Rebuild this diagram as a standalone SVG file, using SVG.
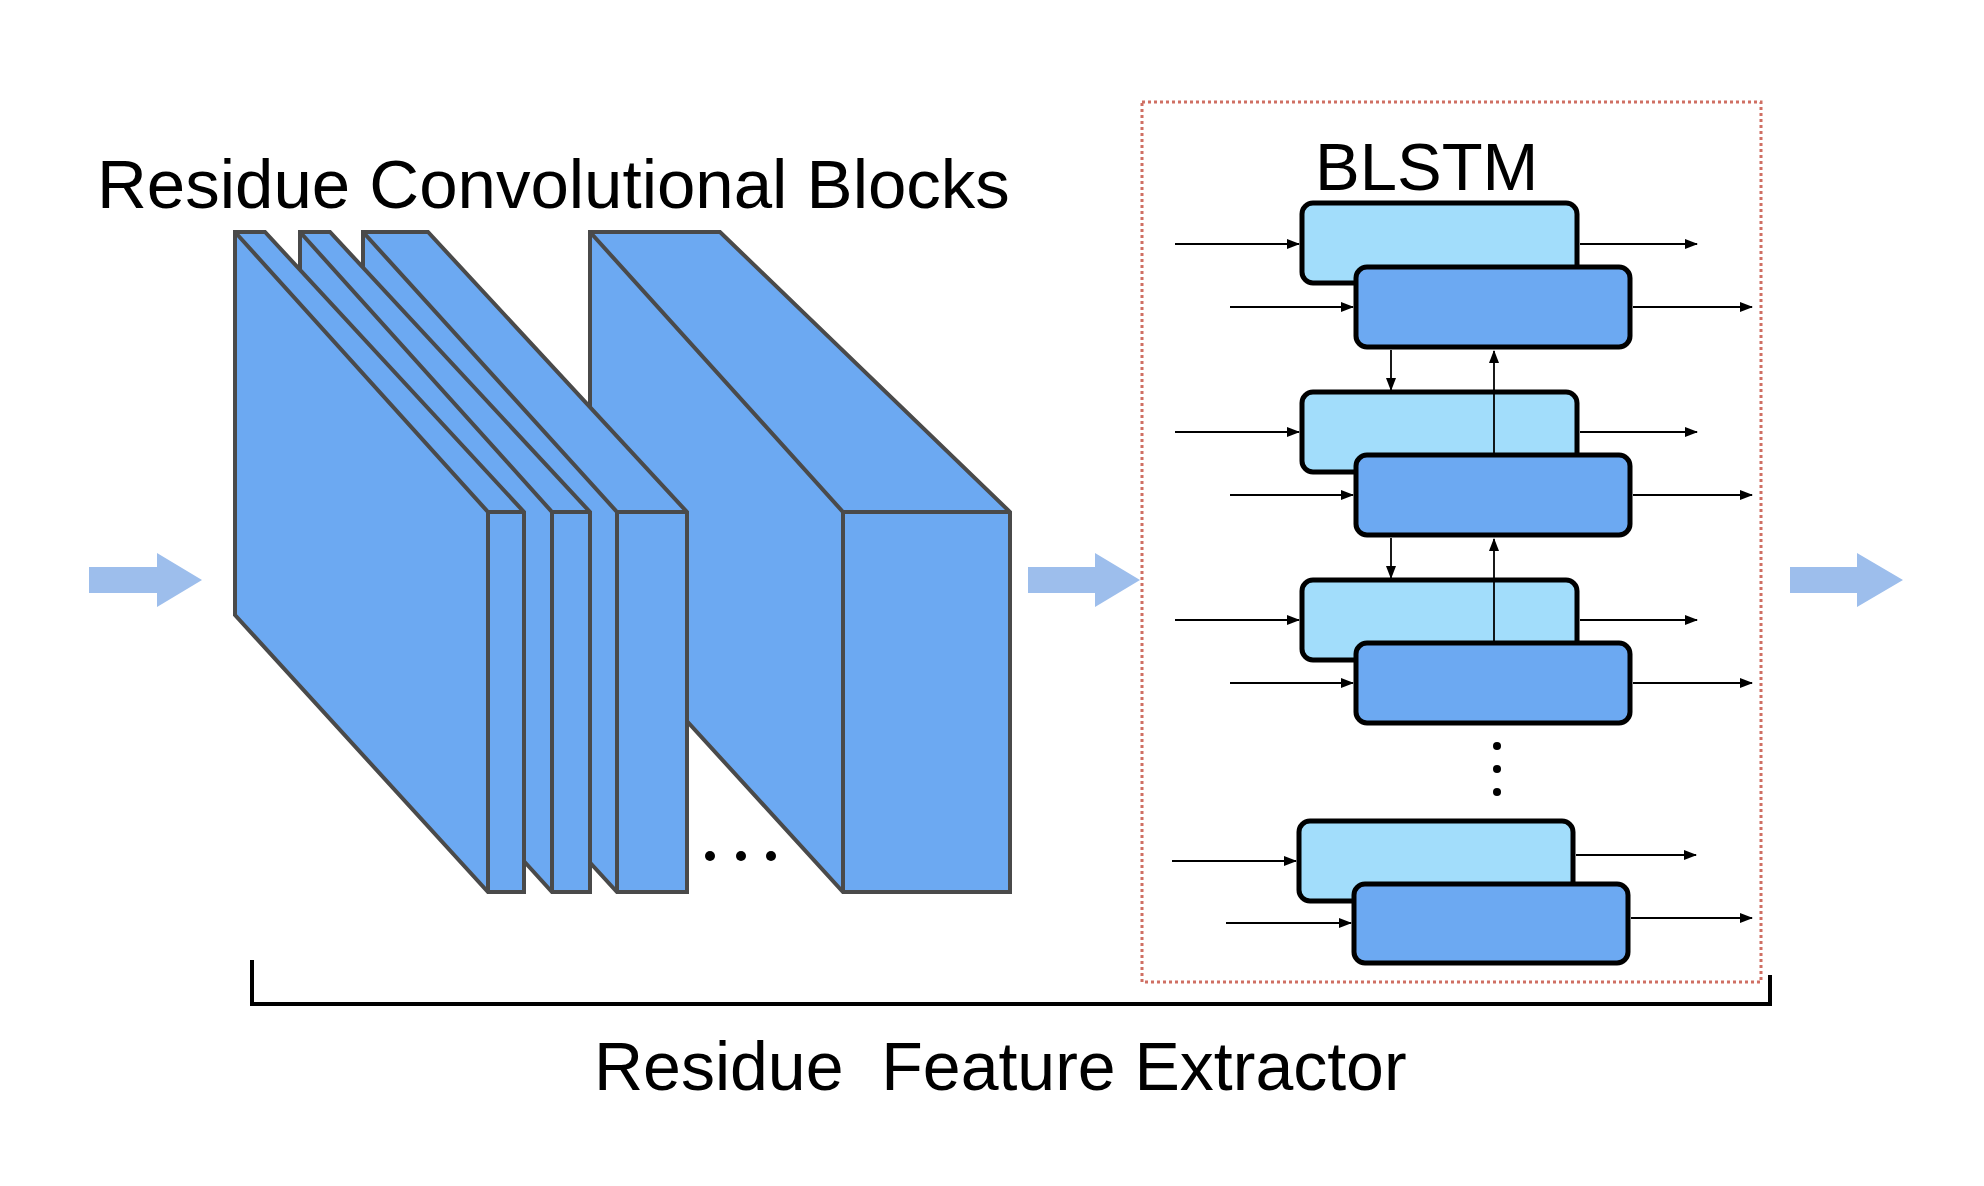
<svg xmlns="http://www.w3.org/2000/svg" width="1984" height="1186" viewBox="0 0 1984 1186">
<style>
.slab{fill:#6CA9F2;stroke:#4a4a4a;stroke-width:4;stroke-linejoin:miter}
.edge{fill:none;stroke:#4a4a4a;stroke-width:4}
.big{fill:#9DBEEC}
.lt{fill:#A2DDFB;stroke:#000;stroke-width:5}
.dk{fill:#6CA9F2;stroke:#000;stroke-width:5}
.ar{stroke:#000;stroke-width:1.8;fill:none;marker-end:url(#ah)}
.t{font-family:"Liberation Sans",Arial,sans-serif;fill:#000}
</style>
<defs>
<marker id="ah" markerUnits="userSpaceOnUse" markerWidth="13" markerHeight="10" refX="12" refY="5" orient="auto">
<path d="M0,0 L13,5 L0,10 Z" fill="#000"/>
</marker>
</defs>
<rect width="1984" height="1186" fill="#fff"/>

<text class="t" x="97" y="208" font-size="69">Residue Convolutional Blocks</text>

<g id="slab4">
<polygon class="slab" points="590,232 720,232 1010,512 1010,892 843,892 590,615"/>
<polyline class="edge" points="590,232 843,512 1010,512"/>
<line class="edge" x1="843" y1="512" x2="843" y2="892"/>
</g>
<g id="slab3">
<polygon class="slab" points="363,232 428,232 687,512 687,892 617,892 363,615"/>
<polyline class="edge" points="363,232 617,512 687,512"/>
<line class="edge" x1="617" y1="512" x2="617" y2="892"/>
</g>
<g id="slab2">
<polygon class="slab" points="300,232 330,232 590,512 590,892 552,892 300,615"/>
<polyline class="edge" points="300,232 552,512 590,512"/>
<line class="edge" x1="552" y1="512" x2="552" y2="892"/>
</g>
<g id="slab1">
<polygon class="slab" points="235,232 265,232 524,512 524,892 488,892 235,615"/>
<polyline class="edge" points="235,232 488,512 524,512"/>
<line class="edge" x1="488" y1="512" x2="488" y2="892"/>
</g>
<g id="ellipsis">
<circle cx="710" cy="856" r="5"/>
<circle cx="741" cy="856" r="5"/>
<circle cx="771" cy="856" r="5"/>
</g>

<g id="flow-arrows">
<polygon class="big" points="89,567 157,567 157,553 202,580 157,607 157,593 89,593"/>
<polygon class="big" points="1028,567 1095,567 1095,553 1140,580 1095,607 1095,593 1028,593"/>
<polygon class="big" points="1790,567 1857,567 1857,553 1903,580 1857,607 1857,593 1790,593"/>
</g>

<g id="blstm">
<rect x="1142" y="102" width="619" height="880" fill="none" stroke="#CF6F63" stroke-width="3" stroke-dasharray="3 3"/>
<text class="t" x="1315" y="190" font-size="67">BLSTM</text>
<g id="row1">
<rect class="lt" x="1302" y="203" width="275" height="80" rx="11"/>
<rect class="dk" x="1356" y="267" width="274" height="80" rx="11"/>
</g>
<g id="row2">
<rect class="lt" x="1302" y="392" width="275" height="80" rx="11"/>
<rect class="dk" x="1356" y="455" width="274" height="80" rx="11"/>
</g>
<g id="row3">
<rect class="lt" x="1302" y="580" width="275" height="80" rx="11"/>
<rect class="dk" x="1356" y="643" width="274" height="80" rx="11"/>
</g>
<g id="row4">
<rect class="lt" x="1299" y="821" width="274" height="80" rx="11"/>
<rect class="dk" x="1354" y="884" width="274" height="79" rx="11"/>
</g>
<g id="vdots">
<circle cx="1497" cy="746" r="4"/>
<circle cx="1497" cy="769" r="4"/>
<circle cx="1497" cy="792" r="4"/>
</g>
</g>

<g id="connectors">
<line class="ar" x1="1175" y1="244" x2="1299" y2="244"/>
<line class="ar" x1="1580" y1="244" x2="1697" y2="244"/>
<line class="ar" x1="1230" y1="307" x2="1353" y2="307"/>
<line class="ar" x1="1633" y1="307" x2="1752" y2="307"/>

<line class="ar" x1="1175" y1="432" x2="1299" y2="432"/>
<line class="ar" x1="1580" y1="432" x2="1697" y2="432"/>
<line class="ar" x1="1230" y1="495" x2="1353" y2="495"/>
<line class="ar" x1="1633" y1="495" x2="1752" y2="495"/>

<line class="ar" x1="1175" y1="620" x2="1299" y2="620"/>
<line class="ar" x1="1580" y1="620" x2="1697" y2="620"/>
<line class="ar" x1="1230" y1="683" x2="1353" y2="683"/>
<line class="ar" x1="1633" y1="683" x2="1752" y2="683"/>

<line class="ar" x1="1172" y1="861" x2="1296" y2="861"/>
<line class="ar" x1="1576" y1="855" x2="1696" y2="855"/>
<line class="ar" x1="1226" y1="923" x2="1351" y2="923"/>
<line class="ar" x1="1631" y1="918" x2="1752" y2="918"/>

<line class="ar" x1="1391" y1="350" x2="1391" y2="390"/>
<line class="ar" x1="1494" y1="453" x2="1494" y2="351"/>
<line class="ar" x1="1391" y1="538" x2="1391" y2="578"/>
<line class="ar" x1="1494" y1="641" x2="1494" y2="539"/>
</g>

<g id="bracket">
<path d="M252,960 V1004 H1770 V975" fill="none" stroke="#000" stroke-width="4"/>
</g>
<text class="t" x="594" y="1090" font-size="68" xml:space="preserve">Residue  Feature Extractor</text>
</svg>
